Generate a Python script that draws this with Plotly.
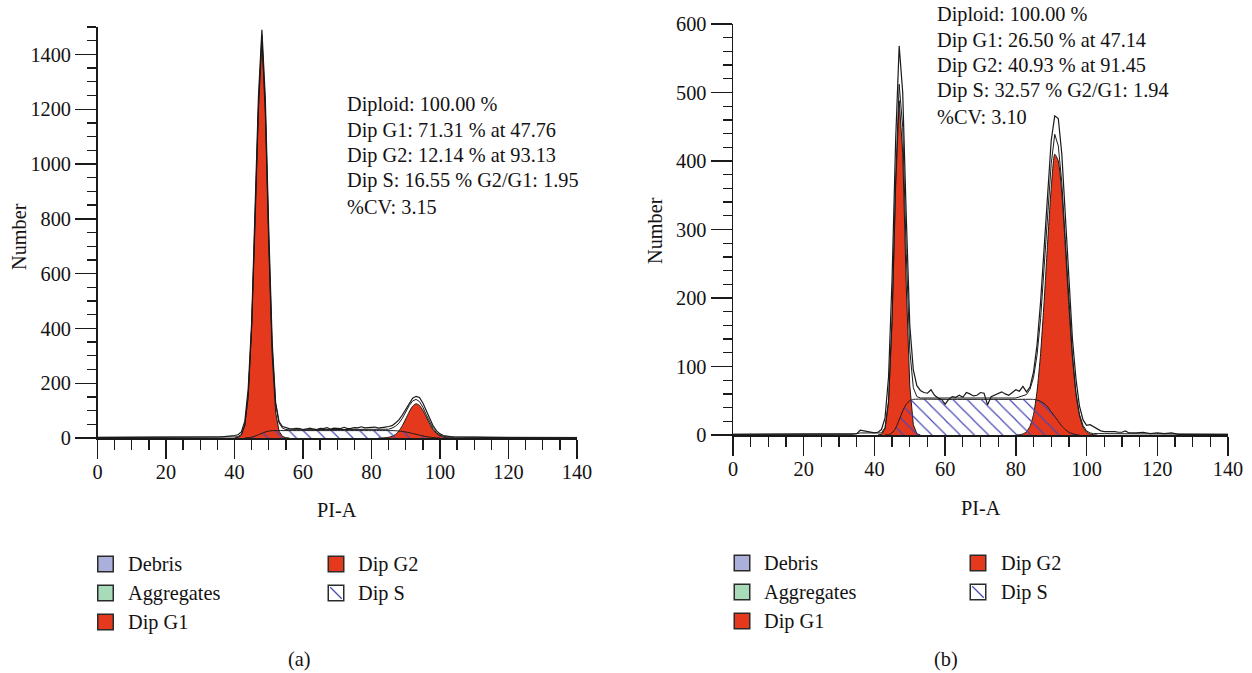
import plotly.graph_objects as go

# ---------------- data ----------------
X_TICKS = [0, 20, 40, 60, 80, 100, 120, 140]
A_Y_TICKS = [0, 200, 400, 600, 800, 1000, 1200, 1400]
B_Y_TICKS = [0, 100, 200, 300, 400, 500, 600]

A_STATS = ["Diploid: 100.00 %", "Dip G1: 71.31 % at 47.76", "Dip G2: 12.14 % at 93.13",
           "Dip S: 16.55 % G2/G1: 1.95", "%CV: 3.15"]
B_STATS = ["Diploid: 100.00 %", "Dip G1: 26.50 % at 47.14", "Dip G2: 40.93 % at 91.45",
           "Dip S: 32.57 % G2/G1: 1.94", "%CV: 3.10"]
A_PEAK_POS = [47.76, 93.13]
B_PEAK_POS = [47.14, 91.45]

LEGEND_COL1 = ["Debris", "Aggregates", "Dip G1"]
LEGEND_COL2 = ["Dip G2", "Dip S"]

# Panel (a)
A_RAW_X = [0, 4, 8, 12, 16, 20, 24, 28, 32, 34,
           36, 37, 38, 39, 40, 41, 42, 43, 44, 45,
           46, 47, 48, 49, 50, 51, 52, 53, 54, 55,
           56, 57, 58, 59, 60, 61, 62, 63, 64, 65,
           66, 67, 68, 69, 70, 71, 72, 73, 74, 75,
           76, 77, 78, 79, 80, 81, 82, 83, 84, 85,
           86, 87, 88, 89, 90, 91, 92, 93, 94, 95,
           96, 97, 98, 99, 100, 101, 102, 103, 104, 106,
           108, 110, 114, 118, 122, 126, 130, 135, 140]
A_RAW_Y = [2, 2, 2, 2, 2, 2, 2, 2, 3, 3,
           4, 5, 6, 7, 9, 12, 22, 60, 180, 420,
           820, 1250, 1490, 1240, 760, 350, 130, 60, 42, 38,
           34, 33, 35, 34, 31, 33, 36, 33, 31, 35,
           34, 38, 33, 36, 35, 34, 39, 34, 35, 38,
           37, 41, 37, 38, 41, 40, 36, 37, 40, 42,
           45, 55, 66, 84, 106, 128, 145, 152, 148, 128,
           100, 70, 44, 26, 15, 9, 6, 5, 4, 3,
           3, 3, 2, 2, 2, 2, 2, 2, 1]
A_FIT_X = [0, 20, 36, 40, 41, 42, 43, 44, 45, 46, 47, 48, 49, 50, 51, 52, 53, 54, 55, 56,
           60, 70, 80, 84, 85, 86, 87, 88, 89, 90, 91, 92, 93, 94, 95, 96, 97, 98, 99, 100,
           101, 102, 104, 110, 120, 140]
A_FIT_Y = [2, 2, 3, 4, 5, 13, 48, 154, 406, 790, 1215, 1470, 1205, 728, 330, 125, 55, 36, 31, 30,
           30, 30, 30, 31, 32, 36, 43, 54, 72, 95, 118, 135, 141, 133, 112, 85, 57, 35, 19, 10,
           6, 4, 3, 3, 2, 2]
A_G1_X = [40, 41, 42, 43, 44, 45, 46, 47, 48, 49, 50, 51, 52, 53, 54, 55, 56]
A_G1_Y = [0, 2, 10, 45, 150, 400, 780, 1200, 1450, 1180, 700, 300, 95, 25, 6, 1, 0]
A_G2_X = [82, 83, 84, 85, 86, 87, 88, 89, 90, 91, 92, 93, 94, 95, 96, 97, 98, 99, 100, 101,
          102, 103, 104]
A_G2_Y = [0, 0.4, 1, 2.5, 6, 13, 26, 45, 70, 95, 116, 125, 119, 101, 77, 51, 30, 16, 7.5, 3,
          1, 0.4, 0]
A_S_X = [43, 44, 45, 46, 47, 48, 49, 50, 51, 52, 60, 70, 80,
         86, 87, 88, 89, 90, 91, 92, 93, 94, 95, 96, 97, 98, 99, 100]
A_S_Y = [0, 1, 3, 7, 12, 17, 22, 25, 27, 27, 27, 27, 27,
         27, 26.5, 25.5, 24, 22, 19.5, 16.5, 13.5, 10.5, 7.5, 5, 3, 1.5, 0.5, 0]

# Panel (b)
B_RAW_X = [0, 5, 10, 15, 20, 25, 30, 34, 35, 36,
           37, 38, 39, 40, 41, 42, 43, 44, 45, 46,
           47, 48, 49, 50, 51, 52, 53, 54, 55, 56,
           57, 58, 59, 60, 61, 62, 63, 64, 65, 66,
           67, 68, 69, 70, 71, 72, 73, 74, 75, 76,
           77, 78, 79, 80, 81, 82, 83, 84, 85, 86,
           87, 88, 89, 90, 91, 92, 93, 94, 95, 96,
           97, 98, 99, 100, 101, 102, 103, 104, 105, 106,
           107, 108, 109, 110, 111, 112, 114, 116, 118, 120,
           122, 124, 126, 130, 135, 140]
B_RAW_Y = [1, 1, 1, 1, 1, 1, 1, 1, 2, 7,
           6, 5, 4, 3, 4, 8, 25, 85, 230, 430,
           568, 500, 320, 160, 95, 72, 65, 62, 61, 66,
           58, 54, 52, 45, 52, 56, 55, 58, 55, 62,
           60, 57, 58, 62, 61, 44, 56, 58, 61, 63,
           60, 58, 62, 66, 64, 71, 63, 70, 92, 132,
           195, 275, 362, 430, 466, 462, 410, 320, 225, 140,
           82, 42, 22, 14, 15, 12, 8, 6, 5, 5,
           6, 5, 4, 4, 6, 3, 3, 4, 2, 3,
           2, 3, 1, 1, 1, 1]
B_FIT_X = [0, 20, 34, 36, 38, 40, 42, 43, 44, 45, 46, 47, 48, 49, 50, 51, 52, 53,
           60, 70, 80, 83, 84, 85, 86, 87, 88, 89, 90, 91, 92, 93, 94, 95, 96, 97, 98, 99,
           100, 101, 102, 105, 110, 120, 130, 140]
B_FIT_Y = [1, 1, 1, 3, 3, 2, 3, 11, 50, 172, 373, 512, 449, 265, 124, 69, 56, 54,
           54, 54, 54, 59, 67, 84, 117, 170, 243, 325, 396, 439, 422, 368, 283, 193, 117, 62, 30, 14,
           6, 3, 2, 2, 2, 1.5, 1, 1]
B_G1_X = [41, 42, 43, 44, 45, 46, 47, 48, 49, 50, 51, 52, 53]
B_G1_Y = [0, 1, 9, 48, 167, 361, 488, 412, 218, 72, 15, 2, 0]
B_G2_X = [80, 81, 82, 83, 84, 85, 86, 87, 88, 89, 90, 91, 92, 93, 94, 95, 96, 97, 98, 99,
          100, 101, 102, 103]
B_G2_Y = [0, 0.5, 1.5, 4.7, 12.8, 30, 64, 119, 195, 282, 360, 410, 400, 353, 273, 187, 113, 60, 28, 11.7,
          4.3, 1.4, 0.4, 0]
B_S_X = [43, 44, 45, 46, 47, 48, 49, 50, 51, 60, 70, 80,
         85, 86, 87, 88, 89, 90, 91, 92, 93, 94, 95, 96, 97, 98]
B_S_Y = [0, 0.5, 3, 10, 22, 35, 45, 50, 52, 52, 52, 52,
         52, 51, 49, 46, 41, 34, 27, 20, 13, 8, 4, 2, 0.5, 0]

# ---------------- styling ----------------
W, H = 1252, 673
SERIF = "Liberation Serif, DejaVu Serif, serif"
INK = "#1a1a1a"
TXT = "#141213"
RED = "#e5391d"
HATCH = "#4848b4"
DEBRIS = "#aab0da"
AGGR = "#a8dbb9"
FS = 20.3


def px(x):
    return x / W


def py(y):
    return 1 - y / H


fig = go.Figure()


def add_panel(xa, ya, raw_x, raw_y, fit_x, fit_y, g1x, g1y, g2x, g2y, sx, sy, peaks, tri_y, tri_size):
    common = dict(xaxis=xa, yaxis=ya, mode="lines", showlegend=False, hoverinfo="skip")
    fig.add_trace(go.Scatter(x=g1x, y=g1y, fill="tozeroy", fillcolor=RED,
                             line=dict(color=INK, width=1), **common))
    fig.add_trace(go.Scatter(x=g2x, y=g2y, fill="tozeroy", fillcolor=RED, line_shape="spline",
                             line=dict(color=INK, width=1, smoothing=0.6), **common))
    fig.add_trace(go.Scatter(x=sx, y=sy, fill="tozeroy", fillcolor="rgba(0,0,0,0)",
                             fillpattern=dict(shape="\\", fgcolor=HATCH, bgcolor="rgba(0,0,0,0)",
                                              size=10, solidity=0.12, fillmode="replace"),
                             line_shape="spline", line=dict(color=INK, width=1, smoothing=0.6), **common))
    fig.add_trace(go.Scatter(x=fit_x, y=fit_y, line=dict(color=INK, width=1), **common))
    fig.add_trace(go.Scatter(x=raw_x, y=raw_y, line=dict(color=INK, width=1.2), **common))
    fig.add_trace(go.Scatter(x=peaks, y=[tri_y] * len(peaks), xaxis=xa, yaxis=ya, mode="markers",
                             marker=dict(symbol="arrow-up", size=tri_size, color="#111",
                                         line=dict(width=0)),
                             cliponaxis=False, showlegend=False, hoverinfo="skip"))


add_panel("x", "y", A_RAW_X, A_RAW_Y, A_FIT_X, A_FIT_Y, A_G1_X, A_G1_Y, A_G2_X, A_G2_Y,
          A_S_X, A_S_Y, A_PEAK_POS, -10, 14)
add_panel("x2", "y2", B_RAW_X, B_RAW_Y, B_FIT_X, B_FIT_Y, B_G1_X, B_G1_Y, B_G2_X, B_G2_Y,
          B_S_X, B_S_Y, B_PEAK_POS, -3, 15)


def xaxis_style(domain, anchor):
    return dict(domain=domain, anchor=anchor, range=[0, 140], tickmode="array", tickvals=X_TICKS,
                automargin=False, ticklabelstandoff=-4, fixedrange=True,
                showline=True, linecolor=INK, linewidth=1.5, ticks="outside", ticklen=19,
                tickwidth=1.4, tickcolor=INK, showgrid=False, zeroline=False,
                tickfont=dict(family=SERIF, size=FS, color=TXT),
                minor=dict(ticks="outside", ticklen=10, tickwidth=1.3, tickcolor=INK,
                           dtick=5, tick0=0, showgrid=False))


def yaxis_style(domain, anchor, rng, ticks, mdt):
    return dict(domain=domain, anchor=anchor, range=rng, tickmode="array", tickvals=ticks,
                automargin=False, fixedrange=True,
                showline=True, linecolor=INK, linewidth=1.5, ticks="outside", ticklen=21,
                tickwidth=1.4, tickcolor=INK, showgrid=False, zeroline=False,
                tickfont=dict(family=SERIF, size=FS, color=TXT),
                minor=dict(ticks="outside", ticklen=9, tickwidth=1.3, tickcolor=INK,
                           dtick=mdt, tick0=0, showgrid=False))


fig.update_layout(
    template="none",
    width=W, height=H, margin=dict(l=0, r=0, t=0, b=0, pad=0, autoexpand=False),
    paper_bgcolor="white", plot_bgcolor="white", showlegend=False,
    font=dict(family=SERIF, size=FS, color=TXT),
    xaxis=xaxis_style([px(97.5), px(577)], "y"),
    yaxis=yaxis_style([py(438), py(27)], "x", [0, 1500], A_Y_TICKS, 50),
    xaxis2=xaxis_style([px(733), px(1228)], "y2"),
    yaxis2=yaxis_style([py(435), py(24)], "x2", [0, 600], B_Y_TICKS, 20),
)

annots = []
shapes = []


def text(x, y, s, size=FS, anchor="left", angle=0):
    annots.append(dict(x=px(x), y=py(y), xref="paper", yref="paper", text=s, showarrow=False,
                       xanchor=anchor, yanchor="middle", textangle=angle, borderpad=0,
                       font=dict(family=SERIF, size=size, color=TXT)))


# stats blocks
for i, s in enumerate(A_STATS):
    text(346, 104.5 + 25.5 * i, s)
for i, s in enumerate(B_STATS):
    text(936, 14.5 + 25.5 * i, s)

# axis titles
text(337, 510, "PI-A", anchor="center")
text(981, 508, "PI-A", anchor="center")
text(19, 237, "Number", anchor="center", angle=-90)
text(655, 231, "Number", anchor="center", angle=-90)

# captions
text(299, 659, "(a)", anchor="center")
text(946, 659, "(b)", anchor="center")


def swatch(cx, cy, fill, hatch=False):
    s = 15.5
    x0, x1 = px(cx - s / 2), px(cx + s / 2)
    y0, y1 = py(cy + s / 2), py(cy - s / 2)
    shapes.append(dict(type="rect", xref="paper", yref="paper", x0=x0, x1=x1, y0=y0, y1=y1,
                       fillcolor=fill, line=dict(color="#2a2a2a", width=1.5)))
    if hatch:
        shapes.append(dict(type="line", xref="paper", yref="paper",
                           x0=px(cx - s / 2 + 2), y0=py(cy - s / 2 + 2),
                           x1=px(cx + s / 2 - 2), y1=py(cy + s / 2 - 2),
                           line=dict(color=HATCH, width=1.2)))


col1_fills = [DEBRIS, AGGR, RED]
col2_fills = [RED, "white"]
for (c1x, l1x, c2x, l2x, top) in [(105.5, 127, 336, 357, 564), (742, 763, 978, 1000, 563)]:
    for i, lab in enumerate(LEGEND_COL1):
        swatch(c1x, top + 29 * i, col1_fills[i])
        text(l1x, top + 29 * i, lab)
    for i, lab in enumerate(LEGEND_COL2):
        swatch(c2x, top + 29 * i, col2_fills[i], hatch=(lab == "Dip S"))
        text(l2x, top + 29 * i, lab)

fig.update_layout(annotations=annots, shapes=shapes)
fig.write_html("out.html", config={"displayModeBar": False, "staticPlot": True},
               post_script="document.body.style.margin='0px';document.body.style.overflow='hidden';")
